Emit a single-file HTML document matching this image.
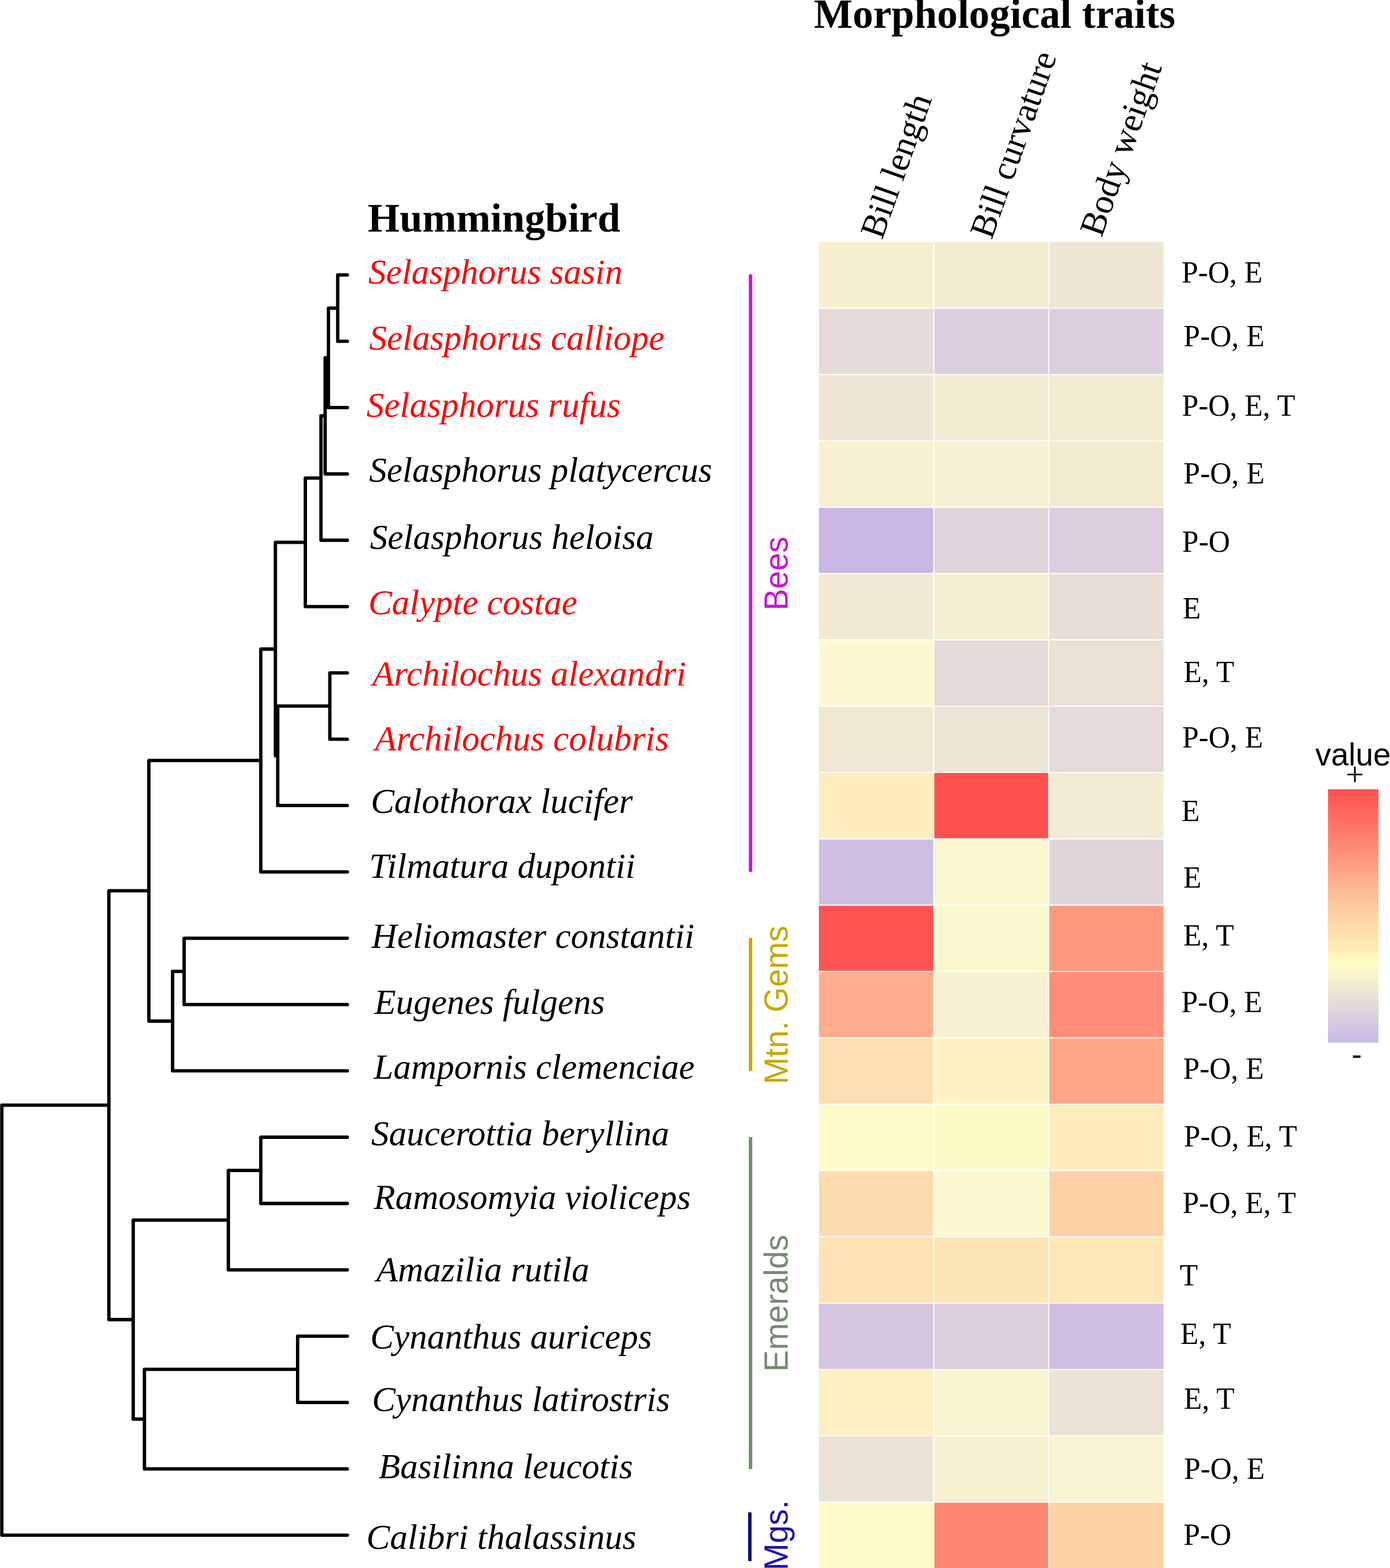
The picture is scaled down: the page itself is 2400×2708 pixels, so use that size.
<!DOCTYPE html>
<html lang="en"><head><meta charset="utf-8"><title>Hummingbird phylogeny and morphological traits</title>
<style>
html,body{margin:0;padding:0;background:#fff}
html,body{width:2400px;height:2708px}
svg{display:block}
text{white-space:pre}
.sp{font-family:"Liberation Serif",serif;font-style:italic;font-size:61px}
.po{font-family:"Liberation Serif",serif;font-size:51.3px}
.hb{font-family:"Liberation Serif",serif;font-weight:bold;font-size:70.7px}
.col{font-family:"Liberation Serif",serif;font-size:61px}
.cl{font-family:"Liberation Sans",sans-serif;font-size:56px}
.lt{font-family:"Liberation Sans",sans-serif;font-size:54.5px}
</style></head>
<body>
<svg width="2400" height="2708" viewBox="0 0 2400 2708">
<rect width="2400" height="2708" fill="#fff"/>
<g id="heatmap">
<rect x="1413.90" y="417.75" width="198.40" height="114.55" fill="#F6F0D1"/>
<rect x="1612.30" y="417.75" width="198.40" height="114.55" fill="#F2ECD2"/>
<rect x="1810.70" y="417.75" width="198.40" height="114.55" fill="#EEE6D4"/>
<rect x="1413.90" y="532.30" width="198.40" height="114.55" fill="#E6DAD9"/>
<rect x="1612.30" y="532.30" width="198.40" height="114.55" fill="#DDD0DE"/>
<rect x="1810.70" y="532.30" width="198.40" height="114.55" fill="#DDD0DE"/>
<rect x="1413.90" y="646.85" width="198.40" height="114.55" fill="#EEE6D5"/>
<rect x="1612.30" y="646.85" width="198.40" height="114.55" fill="#F2EBD2"/>
<rect x="1810.70" y="646.85" width="198.40" height="114.55" fill="#F2EBD2"/>
<rect x="1413.90" y="761.40" width="198.40" height="114.55" fill="#F7F1D1"/>
<rect x="1612.30" y="761.40" width="198.40" height="114.55" fill="#F6F1D2"/>
<rect x="1810.70" y="761.40" width="198.40" height="114.55" fill="#F2EBD2"/>
<rect x="1413.90" y="875.95" width="198.40" height="114.55" fill="#C9B8E6"/>
<rect x="1612.30" y="875.95" width="198.40" height="114.55" fill="#E1D4DD"/>
<rect x="1810.70" y="875.95" width="198.40" height="114.55" fill="#DDCFDF"/>
<rect x="1413.90" y="990.50" width="198.40" height="114.55" fill="#F0E9D3"/>
<rect x="1612.30" y="990.50" width="198.40" height="114.55" fill="#F4EFD2"/>
<rect x="1810.70" y="990.50" width="198.40" height="114.55" fill="#E8DED8"/>
<rect x="1413.90" y="1105.05" width="198.40" height="114.55" fill="#FCF9D2"/>
<rect x="1612.30" y="1105.05" width="198.40" height="114.55" fill="#E6DAD9"/>
<rect x="1810.70" y="1105.05" width="198.40" height="114.55" fill="#EAE2D6"/>
<rect x="1413.90" y="1219.60" width="198.40" height="114.55" fill="#EFE8D3"/>
<rect x="1612.30" y="1219.60" width="198.40" height="114.55" fill="#EDE4D5"/>
<rect x="1810.70" y="1219.60" width="198.40" height="114.55" fill="#E6DBD9"/>
<rect x="1413.90" y="1334.15" width="198.40" height="114.55" fill="#FEEEBE"/>
<rect x="1612.30" y="1334.15" width="198.40" height="114.55" fill="#FF5050"/>
<rect x="1810.70" y="1334.15" width="198.40" height="114.55" fill="#F2ECD4"/>
<rect x="1413.90" y="1448.70" width="198.40" height="114.55" fill="#CFBFE3"/>
<rect x="1612.30" y="1448.70" width="198.40" height="114.55" fill="#FAF7D1"/>
<rect x="1810.70" y="1448.70" width="198.40" height="114.55" fill="#E1D5DC"/>
<rect x="1413.90" y="1563.25" width="198.40" height="114.55" fill="#FF5353"/>
<rect x="1612.30" y="1563.25" width="198.40" height="114.55" fill="#FBF8CF"/>
<rect x="1810.70" y="1563.25" width="198.40" height="114.55" fill="#FF9A80"/>
<rect x="1413.90" y="1677.80" width="198.40" height="114.55" fill="#FFAD8C"/>
<rect x="1612.30" y="1677.80" width="198.40" height="114.55" fill="#F8F2D0"/>
<rect x="1810.70" y="1677.80" width="198.40" height="114.55" fill="#FF8D78"/>
<rect x="1413.90" y="1792.35" width="198.40" height="114.55" fill="#FEDFB1"/>
<rect x="1612.30" y="1792.35" width="198.40" height="114.55" fill="#FEF2C4"/>
<rect x="1810.70" y="1792.35" width="198.40" height="114.55" fill="#FFA588"/>
<rect x="1413.90" y="1906.90" width="198.40" height="114.55" fill="#FEFBCA"/>
<rect x="1612.30" y="1906.90" width="198.40" height="114.55" fill="#FEFAC6"/>
<rect x="1810.70" y="1906.90" width="198.40" height="114.55" fill="#FEEDBC"/>
<rect x="1413.90" y="2021.45" width="198.40" height="114.55" fill="#FEDBAF"/>
<rect x="1612.30" y="2021.45" width="198.40" height="114.55" fill="#FCF7CE"/>
<rect x="1810.70" y="2021.45" width="198.40" height="114.55" fill="#FED2A6"/>
<rect x="1413.90" y="2136.00" width="198.40" height="114.55" fill="#FEE1B4"/>
<rect x="1612.30" y="2136.00" width="198.40" height="114.55" fill="#FEE5B6"/>
<rect x="1810.70" y="2136.00" width="198.40" height="114.55" fill="#FEE8B9"/>
<rect x="1413.90" y="2250.55" width="198.40" height="114.55" fill="#D6C7E0"/>
<rect x="1612.30" y="2250.55" width="198.40" height="114.55" fill="#DDCFDE"/>
<rect x="1810.70" y="2250.55" width="198.40" height="114.55" fill="#CFBEE2"/>
<rect x="1413.90" y="2365.10" width="198.40" height="114.55" fill="#FEF0C1"/>
<rect x="1612.30" y="2365.10" width="198.40" height="114.55" fill="#FAF4D0"/>
<rect x="1810.70" y="2365.10" width="198.40" height="114.55" fill="#EAE2D6"/>
<rect x="1413.90" y="2479.65" width="198.40" height="114.55" fill="#EAE2D6"/>
<rect x="1612.30" y="2479.65" width="198.40" height="114.55" fill="#F8F2D0"/>
<rect x="1810.70" y="2479.65" width="198.40" height="114.55" fill="#F8F3D0"/>
<rect x="1413.90" y="2594.20" width="198.40" height="114.55" fill="#FEFBCA"/>
<rect x="1612.30" y="2594.20" width="198.40" height="114.55" fill="#FF8670"/>
<rect x="1810.70" y="2594.20" width="198.40" height="114.55" fill="#FED2A7"/>
<path d="M1612.30 417.75V2710M1810.70 417.75V2710M1413.9 532.30H2009.1M1413.9 646.85H2009.1M1413.9 761.40H2009.1M1413.9 875.95H2009.1M1413.9 990.50H2009.1M1413.9 1105.05H2009.1M1413.9 1219.60H2009.1M1413.9 1334.15H2009.1M1413.9 1448.70H2009.1M1413.9 1563.25H2009.1M1413.9 1677.80H2009.1M1413.9 1792.35H2009.1M1413.9 1906.90H2009.1M1413.9 2021.45H2009.1M1413.9 2136.00H2009.1M1413.9 2250.55H2009.1M1413.9 2365.10H2009.1M1413.9 2479.65H2009.1M1413.9 2594.20H2009.1" stroke="#fff" stroke-width="1.9" fill="none"/>
</g>
<g id="legend">
<defs><linearGradient id="lg" x1="0" y1="0" x2="0" y2="1">
<stop offset="0" stop-color="#FF5050"/>
<stop offset="0.25" stop-color="#FF9078"/>
<stop offset="0.45" stop-color="#FEC8A0"/>
<stop offset="0.61" stop-color="#FEE8B0"/>
<stop offset="0.692" stop-color="#FFFCC8"/>
<stop offset="0.785" stop-color="#F0E8D0"/>
<stop offset="0.88" stop-color="#E0D4DC"/>
<stop offset="1" stop-color="#C8B8E8"/>
</linearGradient></defs>
<rect x="2293" y="1363.1" width="87.1" height="437.7" fill="url(#lg)"/>
<text transform="translate(2271.0 1321.7) scale(1 1.018)" class="lt">value</text>
<text x="2339.4" y="1357.3" text-anchor="middle" style="font-family:'Liberation Serif',serif;font-size:56px">+</text>
<text x="2342.5" y="1839.3" text-anchor="middle" style="font-family:'Liberation Sans',sans-serif;font-size:53px">-</text>
</g>
<g id="tree">
<path d="M599.8 474.8H583.1V589.4H599.8M583.1 532.1H567.1V703.9H599.8M567.1 618.0H561.4V818.5H599.8M561.4 718.2H554.2V933.0H599.8M554.2 825.6H527.2V1047.6H599.8M599.8 1162.1H569.5V1276.7H599.8M569.5 1219.4H479.5V1391.2H599.8M527.2 936.6H475.5V1305.3H479.5M475.5 1121.0H450.3V1505.8H599.8M599.8 1620.3H317.9V1734.9H599.8M317.9 1677.6H298.0V1849.4H599.8M450.3 1313.4H257.0V1763.5H298.0M599.8 1964.0H450.3V2078.5H599.8M450.3 2021.3H394.3V2193.1H599.8M599.8 2307.6H513.9V2422.2H599.8M513.9 2364.9H249.4V2536.8H599.8M394.3 2107.2H230.0V2450.8H249.4M257.0 1538.4H188.0V2279.0H230.0M188.0 1908.7H3.2V2651.3H599.8" fill="none" stroke="#000" stroke-width="5.8" stroke-linecap="round" stroke-linejoin="round"/>
</g>
<g id="species">
<text x="636.1" y="489.9" class="sp" fill="#ff0000">Selasphorus sasin</text>
<text x="637.4" y="603.9" class="sp" fill="#ff0000">Selasphorus calliope</text>
<text x="632.7" y="720.0" class="sp" fill="#ff0000">Selasphorus rufus</text>
<text x="637.2" y="831.8" class="sp">Selasphorus platycercus</text>
<text x="638.7" y="948.4" class="sp">Selasphorus heloisa</text>
<text x="635.9" y="1060.9" class="sp" fill="#ff0000">Calypte costae</text>
<text x="643.1" y="1183.8" class="sp" fill="#ff0000">Archilochus alexandri</text>
<text x="647.3" y="1295.7" class="sp" fill="#ff0000">Archilochus colubris</text>
<text x="640.2" y="1404.1" class="sp">Calothorax lucifer</text>
<text x="637.6" y="1515.6" class="sp">Tilmatura dupontii</text>
<text x="641.6" y="1637.4" class="sp">Heliomaster constantii</text>
<text x="646.2" y="1750.6" class="sp">Eugenes fulgens</text>
<text x="645.3" y="1863.0" class="sp">Lampornis clemenciae</text>
<text x="641.0" y="1978.0" class="sp">Saucerottia beryllina</text>
<text x="645.2" y="2088.2" class="sp">Ramosomyia violiceps</text>
<text x="649.8" y="2213.1" class="sp">Amazilia rutila</text>
<text x="639.3" y="2329.0" class="sp">Cynanthus auriceps</text>
<text x="642.2" y="2437.0" class="sp">Cynanthus latirostris</text>
<text x="653.8" y="2552.7" class="sp">Basilinna leucotis</text>
<text x="632.5" y="2674.8" class="sp">Calibri thalassinus</text>
</g>
<g id="clades">
<path d="M1295.9 474.0V1505.8" stroke="#c814d2" stroke-width="5.9" fill="none"/>
<path d="M1295.9 1619.8V1849.8" stroke="#c8a800" stroke-width="5.9" fill="none"/>
<path d="M1295.9 1963.8V2537.2" stroke="#748c70" stroke-width="5.9" fill="none"/>
<path d="M1294.7 2611.9V2696.1" stroke="#0c0480" stroke-width="5.9" fill="none"/>
<text transform="translate(1360.2 1054.3) rotate(-90) scale(1 1.025)" class="cl" fill="#c814d2">Bees</text>
<text transform="translate(1360.0 1872.6) rotate(-90) scale(1 1.025)" class="cl" fill="#c8a800">Mtn. Gems</text>
<text transform="translate(1359.9 2368.9) rotate(-90) scale(1 1.025)" class="cl" fill="#748c70">Emeralds</text>
<text transform="translate(1359.8 2712) rotate(-90) scale(1 1.025)" class="cl" fill="#1c14a4">Mgs.</text>
</g>
<g id="pollinators">
<text transform="translate(2040.2 487.7) scale(1 1.025)" class="po">P-O, E</text>
<text transform="translate(2043.6 598.0) scale(1 1.025)" class="po">P-O, E</text>
<text transform="translate(2040.7 718.4) scale(1 1.025)" class="po">P-O, E, T</text>
<text transform="translate(2043.6 834.8) scale(1 1.025)" class="po">P-O, E</text>
<text transform="translate(2041.1 953.3) scale(1 1.025)" class="po">P-O</text>
<text transform="translate(2041.9 1068.1) scale(1 1.025)" class="po">E</text>
<text transform="translate(2043.6 1178.4) scale(1 1.025)" class="po">E, T</text>
<text transform="translate(2041.2 1291.0) scale(1 1.025)" class="po">P-O, E</text>
<text transform="translate(2040.1 1417.8) scale(1 1.025)" class="po">E</text>
<text transform="translate(2043.0 1532.6) scale(1 1.025)" class="po">E</text>
<text transform="translate(2043.1 1633.2) scale(1 1.025)" class="po">E, T</text>
<text transform="translate(2039.8 1747.6) scale(1 1.025)" class="po">P-O, E</text>
<text transform="translate(2042.7 1862.8) scale(1 1.025)" class="po">P-O, E</text>
<text transform="translate(2043.9 1980.3) scale(1 1.025)" class="po">P-O, E, T</text>
<text transform="translate(2041.8 2094.6) scale(1 1.025)" class="po">P-O, E, T</text>
<text transform="translate(2036.9 2220.0) scale(1 1.025)" class="po">T</text>
<text transform="translate(2038.1 2320.7) scale(1 1.025)" class="po">E, T</text>
<text transform="translate(2044.1 2432.8) scale(1 1.025)" class="po">E, T</text>
<text transform="translate(2044.2 2554.3) scale(1 1.025)" class="po">P-O, E</text>
<text transform="translate(2043.4 2668.0) scale(1 1.025)" class="po">P-O</text>
</g>
<g id="headers">
<text x="635.0" y="400.0" class="hb">Hummingbird</text>
<text x="1405.3" y="48.0" class="hb" style="font-size:70.9px">Morphological traits</text>
<text transform="translate(1523 415.3) rotate(-70.5)" class="col">Bill length</text>
<text transform="translate(1712.2 415.1) rotate(-70.5)" class="col">Bill curvature</text>
<text transform="translate(1902.1 411.3) rotate(-70.5)" class="col">Body weight</text>
</g>
</svg>
</body></html>
